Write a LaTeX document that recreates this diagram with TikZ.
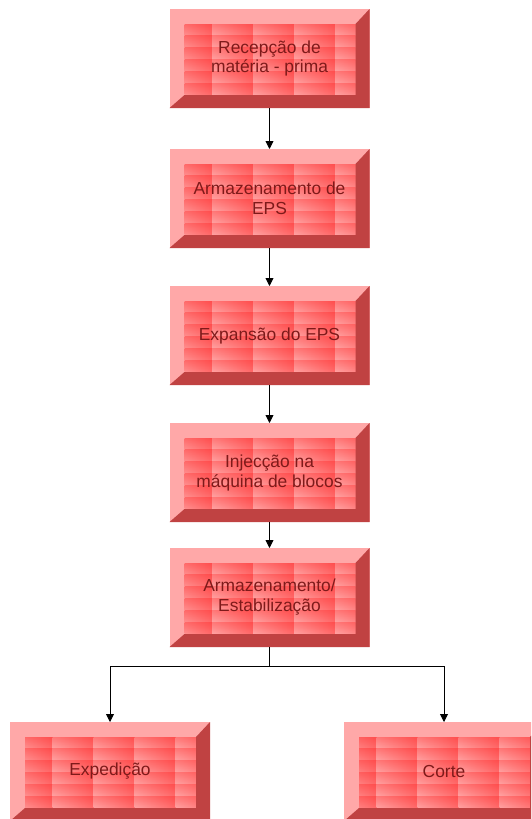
\documentclass[tikz,border=0pt]{standalone}
\usepackage{fontspec}
\setmainfont{Liberation Sans}
\usetikzlibrary{calc,arrows.meta}
\definecolor{facelight}{HTML}{FFA8A8}
\definecolor{facedark}{HTML}{C04242}
\definecolor{brickred}{HTML}{FF5858}
\definecolor{bricklight}{HTML}{FFEAEA}
\definecolor{txtred}{HTML}{7E1A1A}
\tikzset{
  boxshape/.style={minimum width=200pt,minimum height=99pt,inner sep=0pt,outer sep=0pt},
  boxtext/.style={text=txtred,font=\fontsize{17.4}{20}\selectfont,align=center},
  arr/.style={draw=black,line width=0.9pt,-{Triangle[length=8pt,width=8pt]}},
  plainline/.style={draw=black,line width=0.9pt}
}
\newcommand\brickbox[5]{%
  \node[boxshape] (#1) at (#2,#3) {};
  \fill[facelight] (#1.north west) rectangle (#1.south east);
  \begin{scope}
    \clip ($(#1.north west)+(15,15)$) rectangle ($(#1.south east)+(-14,-13)$);
    \fill[brickred] ($(#1.north west)+(15,15)$) rectangle ($(#1.south east)+(-14,-13)$);
    \foreach \c in {0,...,4}{
      \foreach \r in {0,...,5}{
        \shade[top color=brickred!80!white,middle color=bricklight,bottom color=brickred!55!white]
          ($(#1.north west)+(15+#4-41+41*\c,15+11.83*\r)$) rectangle +(41,11.83);
        \shade[left color=white,right color=brickred!55!white,blend mode=multiply]
          ($(#1.north west)+(15+#4-41+41*\c,15+11.83*\r)$) rectangle +(41,11.83);
      }
    }
  \end{scope}
  \fill[facedark] (#1.south west) -- ($(#1.south west)+(15,-13)$) -- ($(#1.south east)+(-14,-13)$)
    -- ($(#1.north east)+(-14,15)$) -- (#1.north east) -- (#1.south east) -- cycle;
  \node[boxtext] (#1t) at ($(#1.center)+(0,0)$) {#5};
}
\begin{document}
\begin{tikzpicture}[x=1pt,y=-1pt]
\useasboundingbox (0,0) rectangle (531,819);
\begin{scope}
\clip (0,0) rectangle (531,819);
\brickbox{b1}{269.5}{58.5}{27.7}{Recepção de\\matéria - prima}
\brickbox{b2}{269.5}{198.5}{27.7}{Armazenamento de\\EPS}
\brickbox{b3}{269.5}{335.5}{27.7}{Expansão do EPS}
\brickbox{b4}{269.5}{472.5}{27.7}{Injecção na\\máquina de blocos}
\brickbox{b5}{269.5}{597.5}{27.7}{Armazenamento/\\Estabilização}
\brickbox{b6}{110}{771.5}{27.7}{Expedição}
\brickbox{b7}{444}{771.5}{17.7}{Corte}
\end{scope}
\coordinate (j) at (269.5,666);
\draw[arr] (b1.south) -- (b2.north);
\draw[arr] (b2.south) -- (b3.north);
\draw[arr] (b3.south) -- (b4.north);
\draw[arr] (b4.south) -- (b5.north);
\draw[plainline] (b5.south) -- (j);
\draw[arr] (j) -| (b6.north);
\draw[arr] (j) -| (b7.north);
\end{tikzpicture}
\end{document}
